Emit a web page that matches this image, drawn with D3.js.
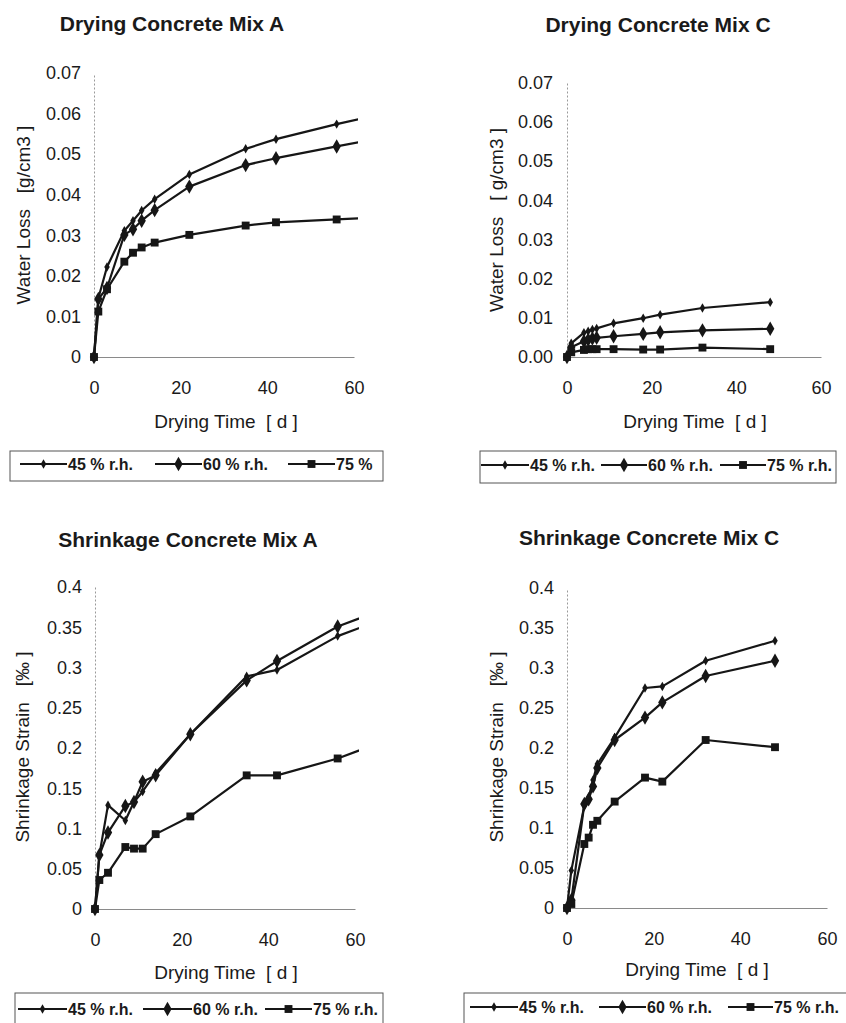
<!DOCTYPE html>
<html><head><meta charset="utf-8">
<script src="https://cdn.jsdelivr.net/npm/d3@7"></script>
<style>
body{margin:0;background:#fff}
text{font-family:"Liberation Sans",Arial,sans-serif;fill:#1a1a1a;white-space:pre}
.title{font-weight:bold;font-size:21px}
.tick text{font-size:18px}
.atitle{font-size:19px}
.leg{font-weight:bold;font-size:16px}
</style>
</head><body>
<svg id="c" width="846" height="1023"></svg>
<script>
const seriesNames = ["45 % r.h.", "60 % r.h.", "75 % r.h."];
const markerTypes = ["small", "diamond", "square"];

// Drying Concrete Mix A (water loss, g/cm3)
const waterA_days = [0, 1, 3, 7, 9, 11, 14, 22, 35, 42, 56, 63];
const waterA_45 = [0, 0.0145, 0.0222, 0.0311, 0.0336, 0.0361, 0.0389, 0.0450, 0.0513, 0.0537, 0.0574, 0.0591];
const waterA_60 = [0, 0.0143, 0.0170, 0.0301, 0.0315, 0.0336, 0.0362, 0.0420, 0.0473, 0.0490, 0.0519, 0.0533];
const waterA_75 = [0, 0.0112, 0.0167, 0.0235, 0.0257, 0.0270, 0.0282, 0.0301, 0.0324, 0.0332, 0.0339, 0.0343];

// Drying Concrete Mix C
const waterC_days = [0, 1, 4, 5, 6, 7, 11, 18, 22, 32, 48];
const waterC_45 = [0, 0.0035, 0.0062, 0.0066, 0.0070, 0.0073, 0.0086, 0.0099, 0.0108, 0.0125, 0.0140];
const waterC_60 = [0, 0.0025, 0.0040, 0.0044, 0.0047, 0.0049, 0.0053, 0.0059, 0.0063, 0.0068, 0.0072];
const waterC_75 = [0, 0.0012, 0.0018, 0.0020, 0.0020, 0.0020, 0.0020, 0.0019, 0.0019, 0.0024, 0.0020];

// Shrinkage Concrete Mix A (permille)
const shrinkA_days = [0, 1, 3, 7, 9, 11, 14, 22, 35, 42, 56, 63];
const shrinkA_45 = [0, 0.067, 0.129, 0.110, 0.133, 0.146, 0.169, 0.217, 0.289, 0.297, 0.339, 0.353];
const shrinkA_60 = [0, 0.067, 0.095, 0.128, 0.133, 0.158, 0.166, 0.217, 0.284, 0.308, 0.351, 0.365];
const shrinkA_75 = [0, 0.036, 0.045, 0.077, 0.075, 0.075, 0.093, 0.115, 0.166, 0.166, 0.187, 0.201];

// Shrinkage Concrete Mix C
const shrinkC_days = [0, 1, 4, 5, 6, 7, 11, 18, 22, 32, 48];
const shrinkC_45 = [0, 0.047, 0.128, 0.138, 0.160, 0.180, 0.213, 0.275, 0.277, 0.309, 0.334];
const shrinkC_60 = [0, 0.010, 0.130, 0.136, 0.152, 0.175, 0.210, 0.238, 0.257, 0.290, 0.309];
const shrinkC_75 = [0, 0.005, 0.080, 0.088, 0.104, 0.109, 0.133, 0.163, 0.158, 0.210, 0.201];

const xTicks = [0, 20, 40, 60];
const waterTicks = [0, 0.01, 0.02, 0.03, 0.04, 0.05, 0.06, 0.07];
const shrinkTicks = [0, 0.05, 0.1, 0.15, 0.2, 0.25, 0.3, 0.35, 0.4];

const svg = d3.select("#c");
const ink = "#161616";
let clipId = 0;

function marker(sel, type) {
  const sym = type === "square" ? d3.symbolSquare : d3.symbolDiamond;
  const size = type === "small" ? 26 : (type === "diamond" ? 60 : 62);
  sel.attr("d", d3.symbol().type(sym).size(size)).attr("fill", ink);
}

function panel(o) {
  const g = svg.append("g");
  const x = d3.scaleLinear().domain([0, 60]).range([o.x0, o.x1]);
  const y = d3.scaleLinear().domain([0, o.ymax]).range([o.y0, o.y1]);

  g.append("text").attr("class", "title").attr("x", o.tx).attr("y", o.ty)
    .attr("text-anchor", "middle").text(o.title);

  const ya = g.append("g").attr("transform", `translate(${o.x0},0)`)
    .call(d3.axisLeft(y).tickValues(o.yticks).tickFormat(o.yfmt).tickSize(0).tickPadding(o.ypad));
  ya.select(".domain").attr("stroke", "#9a9a9a").attr("stroke-width", 1).attr("stroke-dasharray", "2,2");
  ya.selectAll(".tick text").attr("fill", ink).attr("font-family", null).attr("font-size", null);

  const xa = g.append("g").attr("transform", `translate(0,${o.y0})`)
    .call(d3.axisBottom(x).tickValues(xTicks).tickFormat(d3.format("d")).tickSize(0).tickPadding(o.xpad));
  xa.select(".domain").attr("stroke", "#8a8a8a").attr("stroke-width", 1);
  xa.selectAll(".tick text").attr("fill", ink).attr("font-family", null).attr("font-size", null);

  g.append("text").attr("class", "atitle").attr("x", o.xtx).attr("y", o.xty)
    .attr("text-anchor", "middle").text(o.xtitle);
  g.append("text").attr("class", "atitle")
    .attr("transform", `translate(${o.ytx},${o.yty}) rotate(-90)`)
    .attr("text-anchor", "middle").text(o.ytitle);

  const cid = "clip" + (clipId++);
  g.append("clipPath").attr("id", cid).append("rect")
    .attr("x", o.x0 - 10).attr("y", o.y1 - 10)
    .attr("width", o.x1 - o.x0 + 14).attr("height", o.y0 - o.y1 + 20);
  const plot = g.append("g").attr("clip-path", `url(#${cid})`);

  const line = d3.line().x(d => x(d[0])).y(d => y(d[1]));
  o.series.forEach((vals, i) => {
    const pts = o.days.map((d, k) => [d, vals[k]]);
    plot.append("path").datum(pts).attr("d", line)
      .attr("fill", "none").attr("stroke", ink).attr("stroke-width", 2.2).attr("stroke-linejoin", "round");
    plot.selectAll(null).data(pts).enter().append("path")
      .attr("transform", d => `translate(${x(d[0])},${y(d[1])})`)
      .call(marker, markerTypes[i]);
  });

  const L = o.legend;
  g.append("rect").attr("x", L.x).attr("y", L.y).attr("width", L.w).attr("height", L.h)
    .attr("fill", "none").attr("stroke", "#555").attr("stroke-width", 1);
  L.items.forEach((it, i) => {
    g.append("line").attr("x1", it[0]).attr("x2", it[1]).attr("y1", L.cy).attr("y2", L.cy)
      .attr("stroke", ink).attr("stroke-width", 2);
    g.append("path").attr("transform", `translate(${(it[0] + it[1]) / 2},${L.cy})`).call(marker, markerTypes[i]);
    g.append("text").attr("class", "leg").attr("x", it[1] + 1).attr("y", L.cy + 6)
      .text(o.legendNames[i]);
  });
}

const fmtWaterA = d => d === 0 ? "0" : d3.format(".2f")(d);
const fmtWaterC = d3.format(".2f");
const fmtShrink = d => d === 0 ? "0" : String(+d.toFixed(2));

panel({
  title: "Drying Concrete Mix A", tx: 172, ty: 31,
  x0: 94, x1: 354, y0: 357, y1: 73, ymax: 0.07, yticks: waterTicks, yfmt: fmtWaterA, ypad: 13, xpad: 24,
  xtitle: "Drying Time  [ d ]", xtx: 226, xty: 428,
  ytitle: "Water Loss   [g/cm3 ]", ytx: 30, yty: 215,
  days: waterA_days, series: [waterA_45, waterA_60, waterA_75],
  legendNames: ["45 % r.h.", "60 % r.h.", "75 %"],
  legend: { x: 10, y: 451, w: 373, h: 30, cy: 464, items: [[20, 67], [155, 202], [288, 335]] }
});
panel({
  title: "Drying Concrete Mix C", tx: 658, ty: 32,
  x0: 567, x1: 821, y0: 357, y1: 82.7, ymax: 0.07, yticks: waterTicks, yfmt: fmtWaterC, ypad: 14, xpad: 24,
  xtitle: "Drying Time  [ d ]", xtx: 695, xty: 428,
  ytitle: "Water Loss   [ g/cm3 ]", ytx: 503, yty: 220,
  days: waterC_days, series: [waterC_45, waterC_60, waterC_75],
  legendNames: seriesNames,
  legend: { x: 480, y: 451, w: 356, h: 32, cy: 465, items: [[481, 529], [601, 647], [720, 766]] }
});
panel({
  title: "Shrinkage Concrete Mix A", tx: 188, ty: 547,
  x0: 95, x1: 355, y0: 909, y1: 587, ymax: 0.4, yticks: shrinkTicks, yfmt: fmtShrink, ypad: 13, xpad: 24,
  xtitle: "Drying Time  [ d ]", xtx: 226, xty: 979,
  ytitle: "Shrinkage Strain   [‰ ]", ytx: 29, yty: 747,
  days: shrinkA_days, series: [shrinkA_45, shrinkA_60, shrinkA_75],
  legendNames: seriesNames,
  legend: { x: 15, y: 993, w: 368, h: 40, cy: 1009, items: [[18, 67], [143, 192], [265, 312]] }
});
panel({
  title: "Shrinkage Concrete Mix C", tx: 649, ty: 545,
  x0: 567, x1: 827, y0: 908, y1: 588, ymax: 0.4, yticks: shrinkTicks, yfmt: fmtShrink, ypad: 13, xpad: 24,
  xtitle: "Drying Time  [ d ]", xtx: 697, xty: 976,
  ytitle: "Shrinkage Strain   [‰ ]", ytx: 503, yty: 747,
  days: shrinkC_days, series: [shrinkC_45, shrinkC_60, shrinkC_75],
  legendNames: seriesNames,
  legend: { x: 464, y: 993, w: 400, h: 40, cy: 1007, items: [[470, 518], [599, 646], [728, 773]] }
});
</script>
</body></html>
